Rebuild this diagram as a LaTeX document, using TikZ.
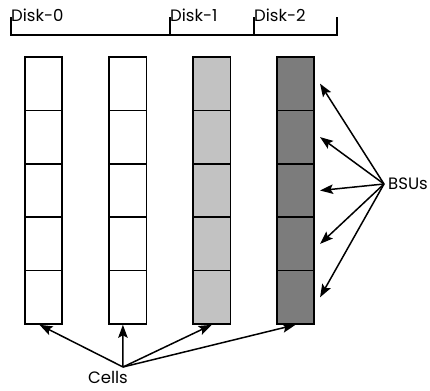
\documentclass[tikz,border=0pt]{standalone}
\usepackage{fontspec}
\setmainfont{Poppins}
\usetikzlibrary{arrows.meta}
\definecolor{lightcell}{HTML}{C2C2C2}
\definecolor{darkcell}{HTML}{7C7C7C}
\tikzset{
  cell/.style={draw, line width=1.6pt, minimum width=37.5pt, minimum height=53.4pt, inner sep=0pt},
  lbl/.style={font=\fontsize{16.5}{18}\selectfont, inner sep=0pt},
  pointer/.style={line width=1.5pt, -{Stealth[length=13pt, width=9.5pt, inset=2.5pt]}},
  brace/.style={line width=1.6pt}
}
\begin{document}
\begin{tikzpicture}[x=1pt, y=-1pt]
\useasboundingbox (0,0) rectangle (430,390);

% disk labels
\node[lbl, anchor=west] (d0) at (11,15) {Disk-0};
\node[lbl, anchor=west] (d1) at (170,15) {Disk-1};
\node[lbl, anchor=west] (d2) at (254,15) {Disk-2};

% bracket grouping the columns by disk
\coordinate (b0) at (11,35);
\coordinate (b1) at (170,35);
\coordinate (b2) at (254,35);
\coordinate (b3) at (337,35);
\draw[brace] ([yshift=18pt]b0) -- (b0) -- (b3) -- ([yshift=18pt]b3);
\draw[brace] (b1) -- ([yshift=18pt]b1);
\draw[brace] (b2) -- ([yshift=18pt]b2);

% four columns of five cells each
\foreach \c/\x/\f in {1/43.5/white, 2/127.9/white, 3/211.7/lightcell, 4/295.5/darkcell} {
  \foreach \r in {1,...,5} {
    \node[cell, fill=\f] (c-\c-\r) at (\x, {30.3+53.4*\r}) {};
  }
}

% BSUs pointers
\node[lbl, anchor=west] (bsus) at (388,184) {BSUs};
\coordinate (bsu) at (384,184);
\foreach \r in {1,...,5} {
  \draw[pointer] (bsu) -- ([xshift=5pt]c-4-\r.east);
}

% Cells pointers
\node[lbl] (cells) at (108,377) {Cells};
\coordinate (cel) at (123,367);
\draw[pointer] (cel) -- ([xshift=-4pt]c-1-5.south);
\draw[pointer] (cel) -- ([xshift=-5pt]c-2-5.south);
\draw[pointer] (cel) -- (c-3-5.south);
\draw[pointer] (cel) -- (c-4-5.south);
\end{tikzpicture}
\end{document}
